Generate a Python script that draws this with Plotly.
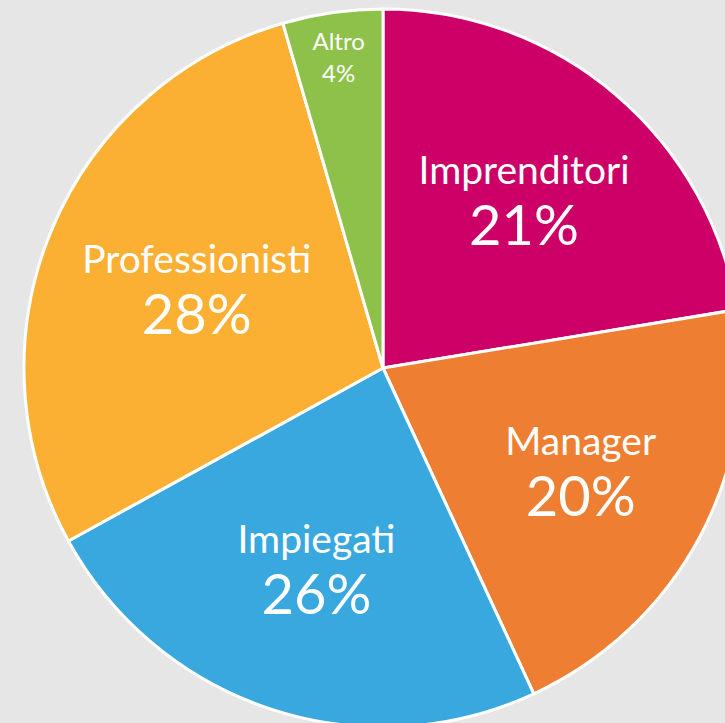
import plotly.graph_objects as go

categories = ["Imprenditori", "Manager", "Impiegati", "Professionisti", "Altro"]
slice_sizes = [22.4, 20.7, 23.9, 28.5, 4.5]
share_labels = ["21%", "20%", "26%", "28%", "4%"]
colors = ["#CC0066", "#EE7F32", "#39A8DF", "#FBB034", "#8DC14A"]

W, H = 766, 736
R = 359
CX, CY = 383, 368

texts = []
sizes = []
for lab, sh in zip(categories, share_labels):
    if lab == "Altro":
        texts.append(f"{lab}<br>{sh}")
        sizes.append(24)
    else:
        texts.append(f"<span style='font-size:39px'>{lab}</span><br><span style='font-size:56px'>{sh}</span>")
        sizes.append(47)

fig = go.Figure(go.Pie(
    labels=categories,
    values=slice_sizes,
    text=texts,
    textinfo="text",
    textposition="inside",
    insidetextorientation="auto",
    sort=False,
    direction="clockwise",
    rotation=0,
    marker=dict(colors=colors, line=dict(color="white", width=3)),
    textfont=dict(family="Lato", size=sizes, color="white"),
    domain=dict(x=[(CX - R) / W, (CX + R) / W], y=[(H - CY - R) / H, (H - CY + R) / H]),
    showlegend=False,
    hoverinfo="label+text",
))

fig.update_layout(
    width=W, height=H,
    margin=dict(l=0, r=0, t=0, b=0),
    paper_bgcolor="#E6E6E6",
    plot_bgcolor="#E6E6E6",
)

fig.write_html(
    "out.html",
    config={"displayModeBar": False},
    post_script="document.body.style.margin='0';document.body.style.overflow='hidden';document.body.style.background='#E6E6E6';",
)
